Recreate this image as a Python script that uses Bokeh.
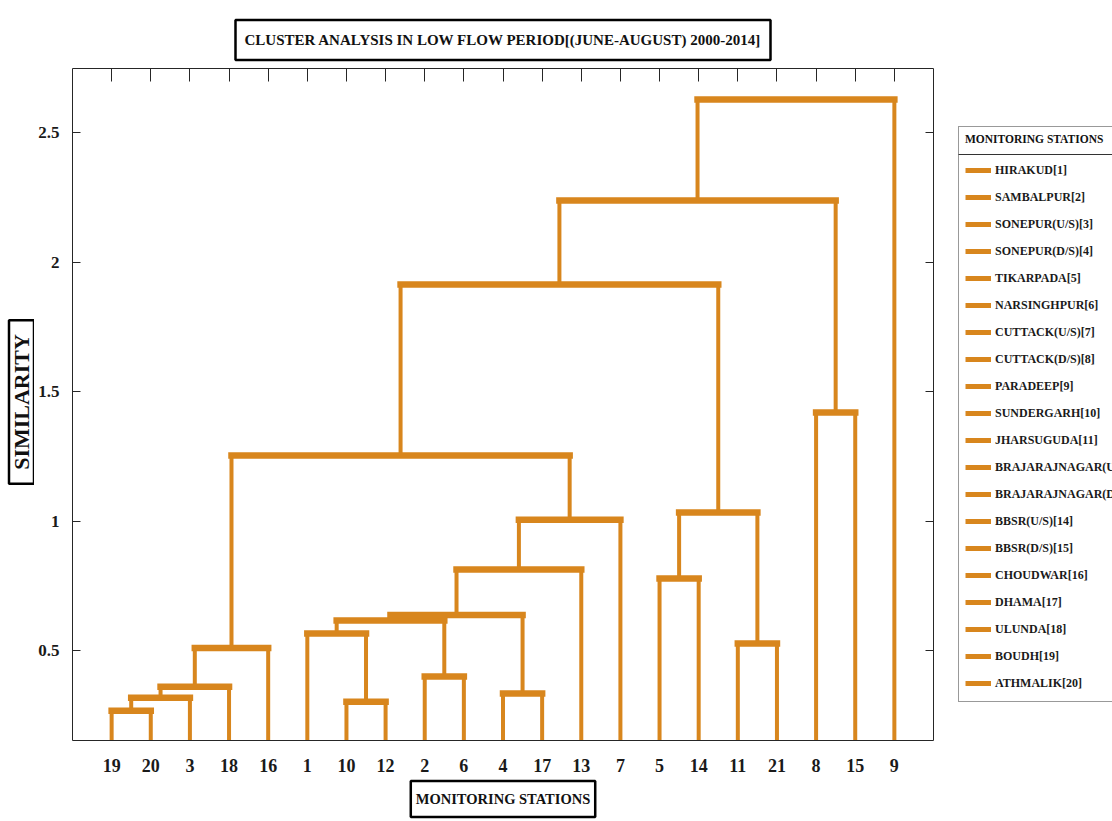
import math
from bokeh.plotting import figure
from bokeh.layouts import row
from bokeh.models import (FixedTicker, LinearAxis, Title, Label, Legend, LegendItem,
                          ColumnDataSource, Range1d)
from bokeh.embed import file_html
from bokeh.resources import INLINE

# ---------------- data ----------------
leaf_order = [19, 20, 3, 18, 16, 1, 10, 12, 2, 6, 4, 17, 13, 7, 5, 14, 11, 21, 8, 15, 9]
# merges: new node ids start at 22 (MATLAB-style linkage)
merge_left = [19, 22, 23, 24, 10, 1, 2, 4, 27, 30, 31, 32, 25, 5, 11, 35, 34, 8, 38, 40]
merge_right = [20, 3, 18, 16, 12, 26, 6, 17, 28, 29, 13, 7, 33, 14, 21, 36, 37, 15, 39, 9]
merge_height = [0.268, 0.318, 0.36, 0.51, 0.303, 0.566, 0.40, 0.334, 0.616, 0.637,
                0.813, 1.005, 1.253, 0.778, 0.527, 1.033, 1.913, 1.419, 2.237, 2.627]
station_names = ["HIRAKUD[1]", "SAMBALPUR[2]", "SONEPUR(U/S)[3]", "SONEPUR(D/S)[4]",
                 "TIKARPADA[5]", "NARSINGHPUR[6]", "CUTTACK(U/S)[7]", "CUTTACK(D/S)[8]",
                 "PARADEEP[9]", "SUNDERGARH[10]", "JHARSUGUDA[11]",
                 "BRAJARAJNAGAR(U/S)[12]", "BRAJARAJNAGAR(D/S)[13]", "BBSR(U/S)[14]",
                 "BBSR(D/S)[15]", "CHOUDWAR[16]", "DHAMA[17]", "ULUNDA[18]", "BOUDH[19]",
                 "ATHMALIK[20]"]
y_ticks = [0.5, 1, 1.5, 2, 2.5]
y_tick_labels = ["0.5", "1", "1.5", "2", "2.5"]
title_text = "CLUSTER ANALYSIS IN LOW FLOW PERIOD[(JUNE-AUGUST) 2000-2014]"
x_title = "MONITORING STATIONS"
y_title = "SIMILARITY"
legend_title = "MONITORING STATIONS"

ORANGE = "#D8861D"
FONT = "Liberation Serif"
AXC = "#262626"
H = 821
TOP, BOT = 68, 740          # frame top / bottom (px)
YW = 34                     # width of the y-title strip

# ---------------- dendrogram layout from linkage ----------------
pos = {leaf: i + 1 for i, leaf in enumerate(leaf_order)}
hgt = {leaf: 0.0 for leaf in leaf_order}
vx0, vy0, vx1, vy1 = [], [], [], []
hx0, hx1, hy = [], [], []
for k, (a, b, h) in enumerate(zip(merge_left, merge_right, merge_height)):
    node = 22 + k
    xa, xb = pos[a], pos[b]
    vx0 += [xa, xb]; vx1 += [xa, xb]
    vy0 += [hgt[a], hgt[b]]; vy1 += [h, h]
    hx0.append(xa); hx1.append(xb); hy.append(h)
    pos[node] = (xa + xb) / 2.0
    hgt[node] = h

vsrc = ColumnDataSource(dict(x0=vx0, y0=vy0, x1=vx1, y1=vy1))
hsrc = ColumnDataSource(dict(x0=hx0, y0=hy, x1=hx1, y1=hy))

PW = 72 - YW + 861 + 2
p = figure(width=PW, height=H, x_range=Range1d(0, 22), y_range=Range1d(0.153, 2.747),
           output_backend="svg", toolbar_location=None,
           min_border_left=72 - YW, min_border_top=TOP, min_border_right=2,
           min_border_bottom=H - BOT,
           x_axis_location=None, y_axis_location=None)
p.grid.visible = False
p.outline_line_color = None
p.background_fill_color = "white"
p.border_fill_color = "white"

p.segment("x0", "y0", "x1", "y1", source=vsrc, line_color=ORANGE, line_width=4)
p.segment("x0", "y0", "x1", "y1", source=hsrc, line_color=ORANGE, line_width=6.5,
          line_cap="square")

x_ticks = list(range(1, len(leaf_order) + 1))
x_overrides = {i + 1: str(l) for i, l in enumerate(leaf_order)}
y_overrides = {t: s for t, s in zip(y_ticks, y_tick_labels)}


def make_axis(ticks, overrides, tick_len, show_labels, standoff, size="18px"):
    ax = LinearAxis(ticker=FixedTicker(ticks=ticks), major_label_overrides=overrides)
    ax.axis_line_color = AXC
    ax.major_tick_line_color = AXC if tick_len > 0 else None
    ax.major_tick_in = tick_len
    ax.major_tick_out = 0
    ax.minor_tick_line_color = None
    ax.major_label_text_font = FONT
    ax.major_label_text_font_style = "bold"
    ax.major_label_text_font_size = size
    ax.major_label_text_color = "#1a1a1a"
    ax.major_label_standoff = standoff
    if not show_labels:
        ax.major_label_text_color = None
        ax.major_label_standoff = 0
    return ax


p.add_layout(make_axis(x_ticks, x_overrides, 0, True, 18), "below")
p.add_layout(make_axis(x_ticks, {}, 13, False, 0), "above")
p.add_layout(make_axis(y_ticks, y_overrides, 8, True, 13, "17px"), "left")
p.add_layout(make_axis(y_ticks, {}, 8, False, 0), "right")


def boxed_title(text, size, pad, standoff):
    return Title(text=text, align="center", text_font=FONT,
                 text_font_style="bold", text_font_size=size, text_color="#111111",
                 background_fill_color="white", border_line_color="black",
                 border_line_width=2.5, padding=pad, standoff=standoff)


p.add_layout(boxed_title(title_text, "15px", dict(left=9, right=9, top=12, bottom=12), 17),
             "above")
p.add_layout(boxed_title(x_title, "14.5px", dict(left=5, right=5, top=10, bottom=10), 9), "below")

# ---------------- y-title strip ----------------
yq = figure(width=YW, height=H, x_range=Range1d(0, YW), y_range=Range1d(BOT, TOP),
            output_backend="svg", toolbar_location=None, min_border=0,
            x_axis_location=None, y_axis_location=None)
yq.grid.visible = False
yq.outline_line_color = None
yq.add_layout(Label(x=21, y=401.5, text=y_title, angle=math.pi / 2,
                    text_align="center", text_baseline="middle",
                    text_font=FONT, text_font_style="bold", text_font_size="22px",
                    text_color="#111111", background_fill_color="white",
                    border_line_color="black", border_line_width=2.5,
                    padding=dict(left=14, right=14, top=0, bottom=0)))

# ---------------- legend panel ----------------
LW = 1112 - YW - PW
LX = 958 - (72 + 861 + 2)
q = figure(width=LW, height=H, x_range=Range1d(0, LW), y_range=Range1d(BOT, TOP),
           output_backend="svg", toolbar_location=None, min_border=0,
           x_axis_location=None, y_axis_location=None)
q.grid.visible = False
q.outline_line_color = None
q.background_fill_color = "white"

# separator line under the legend title
q.segment(x0=[LX], y0=[154], x1=[LW + 10], y1=[154], line_color="#333333", line_width=1)

items = []
for name in station_names:
    r = q.line(x=[0], y=[-1000], line_color=ORANGE, line_width=5)
    items.append(LegendItem(label=name, renderers=[r]))

legend = Legend(items=items, location=(LX, BOT - 702), title=legend_title,
                title_text_font=FONT, title_text_font_style="bold",
                title_text_font_size="11.5px", title_text_color="#111111", title_standoff=13,
                label_text_font=FONT, label_text_font_style="bold",
                label_text_font_size="12px", label_text_color="#1a1a1a",
                glyph_width=26, glyph_height=24, label_height=24, spacing=3,
                label_standoff=4, padding=6, margin=0,
                border_line_color="#333333", border_line_width=1,
                background_fill_alpha=0.0)
q.add_layout(legend)

open("out.html", "w").write(file_html(row(yq, p, q), INLINE))
